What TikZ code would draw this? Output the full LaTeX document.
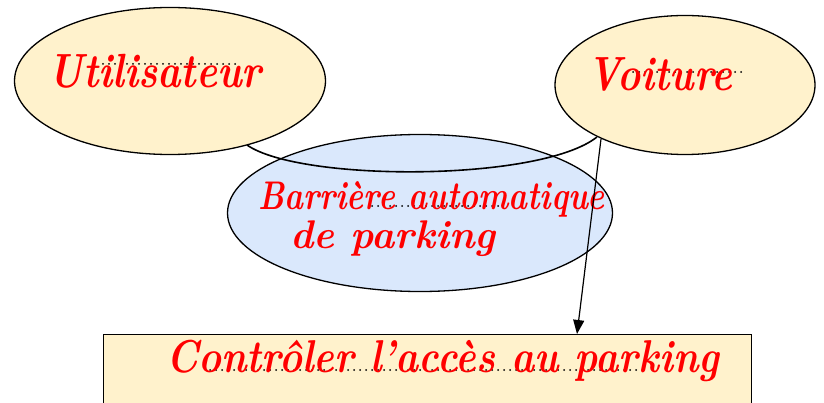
\documentclass[tikz,border=0pt]{standalone}
\usepackage{fontspec}
\usetikzlibrary{arrows.meta,shapes.geometric}
\definecolor{cream}{HTML}{FFF2CC}
\definecolor{paleblue}{HTML}{DAE8FC}
\definecolor{ink}{HTML}{FF0000}
% hand lettering: stretched bold italic
\newcommand{\handtext}[3]{\scalebox{#1}[#2]{#3}}
\begin{document}
\begin{tikzpicture}[x=1pt,y=-1pt,
  usecase/.style={ellipse, draw=black, line width=1.3pt, inner sep=0pt},
  guide/.style={line width=2pt, dash pattern=on 0pt off 6pt, line cap=round, black},
  hand/.style={text=ink, inner sep=0pt, anchor=base west, font=\fontsize{40}{42}\selectfont\bfseries\itshape},
  link/.style={line width=1.6pt, black}]
\useasboundingbox (0,0) rectangle (824,403);
\clip (0,0) rectangle (824,403);

% actors and system
\node[usecase, fill=cream, minimum width=311pt, minimum height=147pt] (user) at (170,81) {};
\node[usecase, fill=cream, minimum width=260pt, minimum height=139pt] (car) at (685,85) {};
\node[usecase, fill=paleblue, minimum width=385pt, minimum height=157pt] (gate) at (420,213) {};

% use case box (runs off the lower edge)
\node[draw=black, line width=1.3pt, fill=cream, minimum width=648pt, minimum height=90pt, anchor=north west, inner sep=0pt] (uc) at (103,334) {};

% dotted writing guides
\draw[guide] (103,64) -- (240,64);
\draw[guide] (627,72) -- (742,72);
\draw[guide] (372,206) -- (500,206);
\draw[guide] (210,370) -- (640,370);

% labels
\node[hand] (tuser) at (48,88) {\handtext{0.99}{1.2}{Utilisateur}};
\node[hand] (tcar) at (587,91) {\handtext{0.98}{1.2}{Voiture}};
\node[hand] (tgate1) at (258,210) {\handtext{0.80}{1.0}{Barrière automatique}};
\node[hand] (tgate2) at (290,249) {\handtext{0.98}{1.0}{de parking}};
\node[hand] (tuc) at (166,372) {\handtext{0.975}{1.15}{Contrôler l'accès au parking}};

% connectors
\coordinate (ua) at (247,145);
\coordinate (ca) at (597,137);
\draw[link] (ua) .. controls (300,182) and (540,182) .. (ca);
\coordinate (cb) at (601,139);
\coordinate (ub) at (577,334);
\draw[line width=1.2pt, -{Triangle[length=14pt,width=11pt]}] (cb) -- (ub);
\end{tikzpicture}
\end{document}
